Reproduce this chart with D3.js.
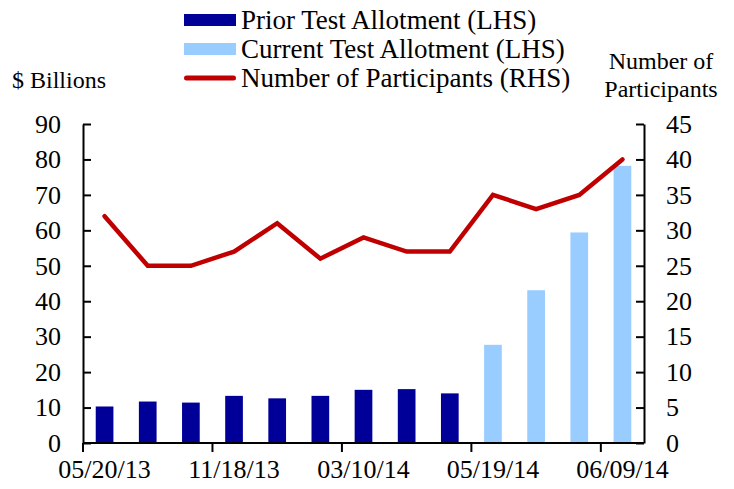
<!DOCTYPE html>
<html>
<head>
<meta charset="utf-8">
<script src="https://cdn.jsdelivr.net/npm/d3@7"></script>
<style>
  html, body { margin: 0; padding: 0; background: #fff; }
  svg { display: block; font-family: "Liberation Serif", "Times New Roman", serif; }
</style>
</head>
<body>
<div id="chart"></div>
<script>
// data (13 weekly tests, only every 3rd date shown)
const categories = d3.range(13);
const tickIndex = [0, 3, 6, 9, 12];
const tickLabels = ["05/20/13", "11/18/13", "03/10/14", "05/19/14", "06/09/14"];
const priorAllot = [10.3, 11.7, 11.4, 13.3, 12.6, 13.3, 15.0, 15.2, 14.0, null, null, null, null];
const currentAllot = [null, null, null, null, null, null, null, null, null, 27.7, 43.1, 59.4, 78.2];
const participants = [32, 25, 25, 27, 31, 26, 29, 27, 27, 35, 33, 35, 40];
const leftTicks = d3.range(0, 91, 10);
const rightTicks = d3.range(0, 46, 5);

(() => {
  const W = 734, H = 489;
  const pl = 83, pr = 644, pt = 124, pb = 443;
  const fs = 26;

  const svg = d3.select("#chart").append("svg")
    .attr("width", W).attr("height", H);

  const x = d3.scaleBand().domain(categories).range([pl, pr]).paddingInner(0.59).paddingOuter(0.295);
  const xEdge = d3.scaleLinear().domain([0, 13]).range([pl, pr]);
  const yL = d3.scaleLinear().domain([0, 90]).range([pb, pt]);
  const yR = d3.scaleLinear().domain([0, 45]).range([pb, pt]);

  // bars
  const bars = (vals, color) => {
    svg.append("g").selectAll("rect")
      .data(categories.filter(i => vals[i] != null))
      .join("rect")
      .attr("x", i => x(i))
      .attr("width", x.bandwidth())
      .attr("y", i => yL(vals[i]))
      .attr("height", i => yL(0) - yL(vals[i]))
      .attr("fill", color);
  };
  bars(priorAllot, "#000099");
  bars(currentAllot, "#99ccff");

  // line
  const line = d3.line()
    .x((d, i) => x(i) + x.bandwidth() / 2)
    .y(d => yR(d));
  svg.append("path")
    .datum(participants)
    .attr("d", line)
    .attr("fill", "none")
    .attr("stroke", "#c00000")
    .attr("stroke-width", 4.5)
    .attr("stroke-linecap", "round");

  // axes
  const styleAxis = (g) => {
    g.attr("font-family", null).attr("font-size", null);
    g.selectAll("path, line").attr("stroke", "#000").attr("stroke-width", 2);
    g.selectAll("text").attr("fill", "#000").style("font-size", fs + "px");
  };

  svg.append("g")
    .attr("transform", `translate(${pl},0)`)
    .call(d3.axisLeft(yL).tickValues(leftTicks).tickSize(-8).tickSizeOuter(0).tickPadding(22))
    .call(styleAxis);

  svg.append("g")
    .attr("transform", `translate(${pr},0)`)
    .call(d3.axisRight(yR).tickValues(rightTicks).tickSize(-8).tickSizeOuter(0).tickPadding(22))
    .call(styleAxis);

  // x axis: tick marks on boundaries, labels centred on the category
  const xg = svg.append("g");
  xg.append("line")
    .attr("x1", pl).attr("x2", pr)
    .attr("y1", pb).attr("y2", pb)
    .attr("stroke", "#000").attr("stroke-width", 2);
  xg.selectAll("line.tick")
    .data(tickIndex)
    .join("line")
    .attr("class", "tick")
    .attr("x1", i => xEdge(i)).attr("x2", i => xEdge(i))
    .attr("y1", pb).attr("y2", pb + 9)
    .attr("stroke", "#000").attr("stroke-width", 2);
  xg.selectAll("text")
    .data(tickIndex)
    .join("text")
    .attr("x", i => x(i) + x.bandwidth() / 2)
    .attr("y", pb + 35)
    .attr("text-anchor", "middle")
    .style("font-size", fs + "px")
    .text((d, k) => tickLabels[k]);

  // axis titles
  svg.append("text").attr("x", 12).attr("y", 88).style("font-size", "24px").text("$ Billions");
  svg.append("text").attr("x", 661).attr("y", 69).attr("text-anchor", "middle").style("font-size", "24px").text("Number of");
  svg.append("text").attr("x", 661).attr("y", 97).attr("text-anchor", "middle").style("font-size", "24px").text("Participants");

  // legend
  const legend = [
    { label: "Prior Test Allotment (LHS)", color: "#000099", type: "bar" },
    { label: "Current Test Allotment (LHS)", color: "#99ccff", type: "bar" },
    { label: "Number of Participants (RHS)", color: "#c00000", type: "line" }
  ];
  const lg = svg.append("g").selectAll("g")
    .data(legend)
    .join("g")
    .attr("transform", (d, i) => `translate(184,${20 + i * 29})`);
  lg.append("rect")
    .attr("x", 0).attr("width", 52)
    .attr("y", d => d.type === "bar" ? -6 : -2.5)
    .attr("height", d => d.type === "bar" ? 12 : 5)
    .attr("rx", d => d.type === "bar" ? 0 : 2.5)
    .attr("fill", d => d.color);
  lg.append("text")
    .attr("x", 57).attr("y", 9)
    .style("font-size", "27px")
    .text(d => d.label);
})();
</script>
</body>
</html>
